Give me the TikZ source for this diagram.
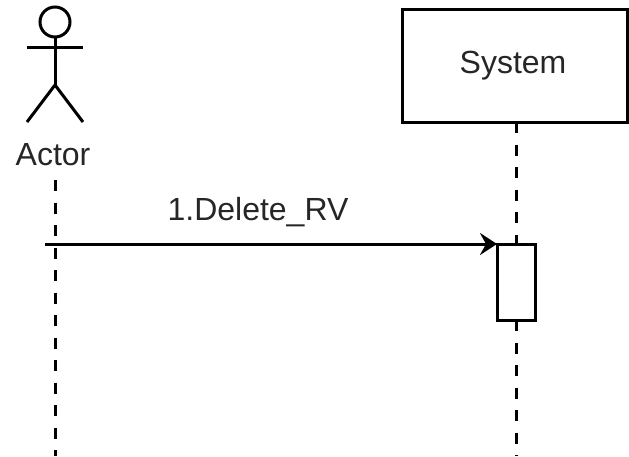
\documentclass[tikz,border=0pt]{standalone}
\usepackage{fontspec}
\setmainfont{Liberation Sans}
\usetikzlibrary{arrows.meta}
\begin{document}
\begin{tikzpicture}[x=1pt,y=-1pt,
  stroke/.style={line width=3pt,draw=black},
  lifeline/.style={line width=3pt,draw=black,dash pattern=on 11pt off 11.5pt},
  boxnode/.style={stroke,fill=white,rectangle,inner sep=0pt,outer sep=0pt},
  txt/.style={font=\fontsize{32}{36}\selectfont,text=black!85,inner sep=0pt}]
\useasboundingbox (0,0) rectangle (629,456);
% actor figure
\node[stroke,circle,minimum size=30pt,inner sep=0pt,outer sep=0pt] (head) at (55,22) {};
\coordinate (hip) at (55,85);
\coordinate (armL) at (27,47);
\coordinate (armR) at (83,47);
\coordinate (legL) at (27,122);
\coordinate (legR) at (83,122);
\draw[stroke] (head.south) -- (hip);
\draw[stroke] (armL) -- (armR);
\draw[stroke] (legL) -- (hip) -- (legR);
\node[txt] (actor) at (53,155) {Actor};
\coordinate (alTop) at (55,180);
\coordinate (alBot) at (55,456);
\draw[lifeline] (alTop) -- (alBot);
% system
\node[boxnode,minimum width=225pt,minimum height=113pt] (system) at (515,65.5) {};
\node[txt] (systxt) at (513,66) {System};
\coordinate (slBot) at (516,456);
\node[boxnode,minimum width=38pt,minimum height=76pt] (act) at (516,282) {};
\draw[lifeline] (system.south -| act.north) -- (act.north);
\draw[lifeline] (act.south) -- (slBot);
\node[boxnode,minimum width=38pt,minimum height=76pt] at (act) {};
% message
\coordinate (msgStart) at (45,244);
\draw[stroke,-{Stealth[length=17pt,width=22pt,inset=6pt]}] (msgStart) -- (msgStart -| act.west);
\node[txt] (msg) at (258,212) {1.Delete\_RV};
\end{tikzpicture}
\end{document}
